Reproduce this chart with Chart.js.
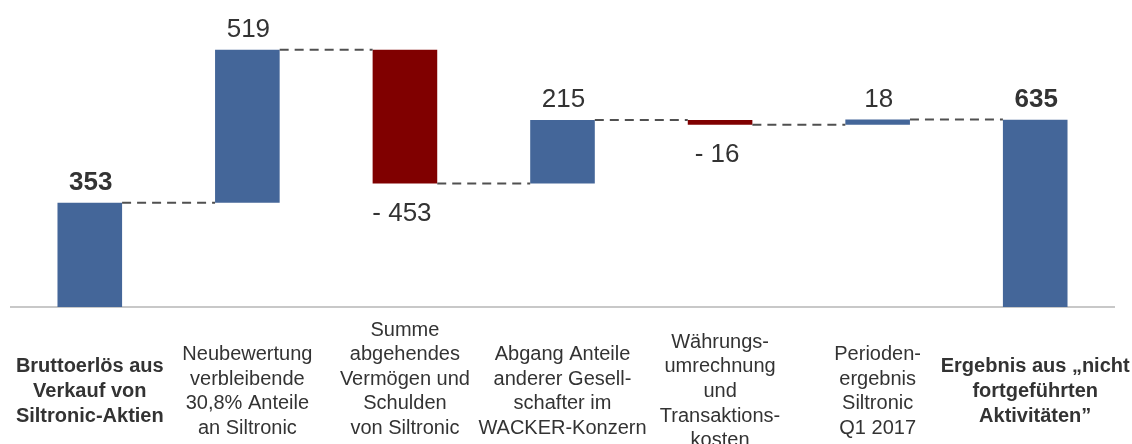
<!DOCTYPE html>
<html>
<head>
<meta charset="utf-8">
<script src="https://cdn.jsdelivr.net/npm/chart.js@4"></script>
<style>
  html, body { margin: 0; padding: 0; background: #fff; }
  #wrap { width: 1132px; height: 444px; }
</style>
</head>
<body>
<div id="wrap"><canvas id="graf"></canvas></div>
<script>
// categorias (eixo x)
var categorias = [
  ['Bruttoerlös aus', 'Verkauf von', 'Siltronic-Aktien'],
  ['Neubewertung', 'verbleibende', '30,8% Anteile', 'an Siltronic'],
  ['Summe', 'abgehendes', 'Vermögen und', 'Schulden', 'von Siltronic', ''],
  ['Abgang Anteile', 'anderer Gesell-', 'schafter im', 'WACKER-Konzern'],
  ['Währungs-', 'umrechnung', 'und', 'Transaktions-', 'kosten'],
  ['Perioden-', 'ergebnis', 'Siltronic', 'Q1 2017'],
  ['Ergebnis aus „nicht', 'fortgeführten', 'Aktivitäten”']
];
// valores (variação de cada passo, total no começo e no fim)
var valores = [353, 519, -453, 215, -16, 18, 635];
var totais = [true, false, false, false, false, false, true];

// barras flutuantes [inicio, fim]
var acumulado = 0;
var faixas = valores.map(function (v, i) {
  if (totais[i]) { acumulado = v; return [0, v]; }
  var ini = acumulado;
  acumulado += v;
  return [ini, acumulado];
});
var cores = valores.map(function (v) { return v < 0 ? '#800000' : '#446699'; });

var fonte = '"Liberation Sans", Arial, sans-serif';

// linhas tracejadas entre as barras + rotulos dos valores
var extras = {
  id: 'extras',
  afterDatasetsDraw: function (chart) {
    var ctx = chart.ctx;
    var meta = chart.getDatasetMeta(0);
    var y = chart.scales.y;
    ctx.save();
    ctx.strokeStyle = '#505050';
    ctx.lineWidth = 2;
    ctx.setLineDash([9, 6]);
    for (var i = 0; i < meta.data.length - 1; i++) {
      var a = meta.data[i], b = meta.data[i + 1];
      var nivel = y.getPixelForValue(faixas[i][1]);
      ctx.beginPath();
      ctx.moveTo(a.x + a.width / 2, nivel);
      ctx.lineTo(b.x - b.width / 2, nivel);
      ctx.stroke();
    }
    ctx.setLineDash([]);
    ctx.fillStyle = '#333333';
    ctx.textAlign = 'center';
    ctx.textBaseline = 'middle';
    meta.data.forEach(function (bar, i) {
      var v = valores[i];
      ctx.font = (totais[i] ? 'bold ' : '') + '26px ' + fonte;
      if (v < 0) {
        var baixo = y.getPixelForValue(Math.min(faixas[i][0], faixas[i][1]));
        ctx.fillText('- ' + Math.abs(v), bar.x - 3, baixo + 30);
      } else {
        var topo = y.getPixelForValue(Math.max(faixas[i][0], faixas[i][1]));
        ctx.fillText(String(v), bar.x + 1, topo - 20);
      }
    });
    ctx.restore();
  }
};

var ctx = document.getElementById('graf');
var graf = new Chart(ctx, {
  type: 'bar',
  data: {
    labels: categorias,
    datasets: [{
      data: faixas,
      backgroundColor: cores,
      borderWidth: 0,
      barPercentage: 0.41,
      categoryPercentage: 1
    }]
  },
  options: {
    responsive: true,
    maintainAspectRatio: false,
    animation: false,
    layout: { padding: { left: 11, right: 18, top: 12, bottom: 0 } },
    plugins: { legend: { display: false }, tooltip: { enabled: false } },
    scales: {
      x: {
        grid: { display: false, drawTicks: false, tickLength: 0 },
        border: { display: true, color: '#c8c8c8', width: 2 },
        ticks: {
          autoSkip: false,
          maxRotation: 0,
          minRotation: 0,
          padding: 23,
          crossAlign: 'center',
          color: '#333333',
          font: function (c) {
            return { family: fonte, size: 20, lineHeight: 1.23, weight: totais[c.index] ? 'bold' : 'normal' };
          }
        },
        afterFit: function (scale) {
          scale.height = 137;
          scale.paddingLeft = 0;
          scale.paddingRight = 0;
        }
      },
      y: {
        display: false,
        min: 0,
        max: 1000
      }
    }
  },
  plugins: [extras]
});
</script>
</body>
</html>
